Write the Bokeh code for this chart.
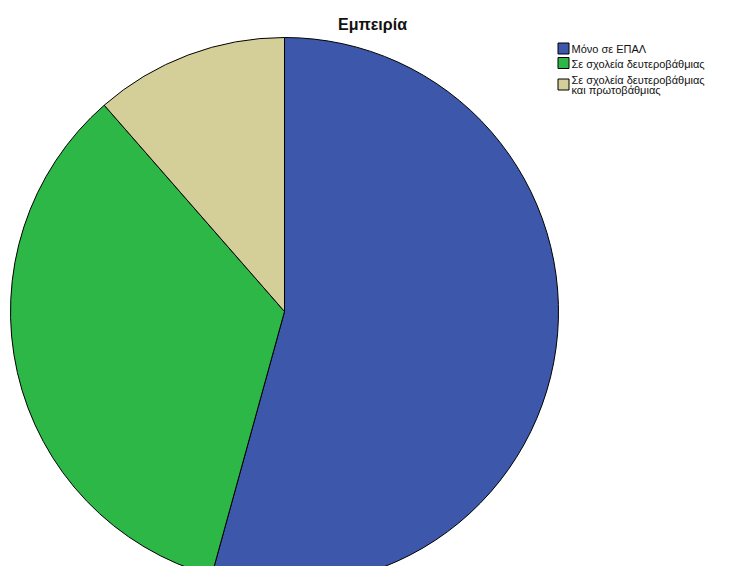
import math
from bokeh.plotting import figure
from bokeh.models import Range1d, ColumnDataSource
from bokeh.core.properties import value
from bokeh.embed import file_html
from bokeh.resources import INLINE

categories = ["Μόνο σε ΕΠΑΛ", "Σε σχολεία δευτεροβάθμιας", "Σε σχολεία δευτεροβάθμιας\nκαι πρωτοβάθμιας"]
counts = [19, 12, 4]
colors = ["#3D57AB", "#2DB747", "#D4CE98"]
title_text = "Εμπειρία"

W, H = 715, 566
p = figure(width=W, height=H, output_backend="svg", toolbar_location=None,
           x_range=Range1d(0, W), y_range=Range1d(0, H), min_border=0,
           outline_line_color=None)
p.axis.visible = False
p.grid.visible = False
p.background_fill_color = "white"

def Y(sy):
    return H - sy

cx, cy, r = 284, Y(311), 274
total = sum(counts)
starts, ends = [], []
cum = 0.0
for c in counts:
    a0 = math.pi / 2 - 2 * math.pi * cum / total
    cum += c
    a1 = math.pi / 2 - 2 * math.pi * cum / total
    starts.append(a0)
    ends.append(a1)

src = ColumnDataSource(dict(start=starts, end=ends, color=colors))
p.wedge(x=cx, y=cy, radius=r, radius_units="screen", start_angle="start", end_angle="end",
        direction="clock", fill_color="color", line_color="black", line_width=1, source=src)

p.text(x=[372], y=[Y(24)], text=[title_text], text_font=value("Liberation Sans"),
       text_font_size="16px", text_font_style="bold", text_align="center",
       text_baseline="middle", text_color="#111111")

# legend
sq_y = [Y(48), Y(62.5), Y(84)]
txt_y = [Y(42.5), Y(57), Y(73)]
p.rect(x=[563] * 3, y=sq_y, width=11, height=11, width_units="screen", height_units="screen",
       fill_color=colors, line_color="black", line_width=1)
p.text(x=[571] * 3, y=txt_y, text=categories, text_font=value("Liberation Sans"),
       text_font_size="11px", text_align="left", text_baseline="top", text_color="#111111",
       text_line_height=0.9)

open("out.html", "w").write(file_html(p, INLINE))
